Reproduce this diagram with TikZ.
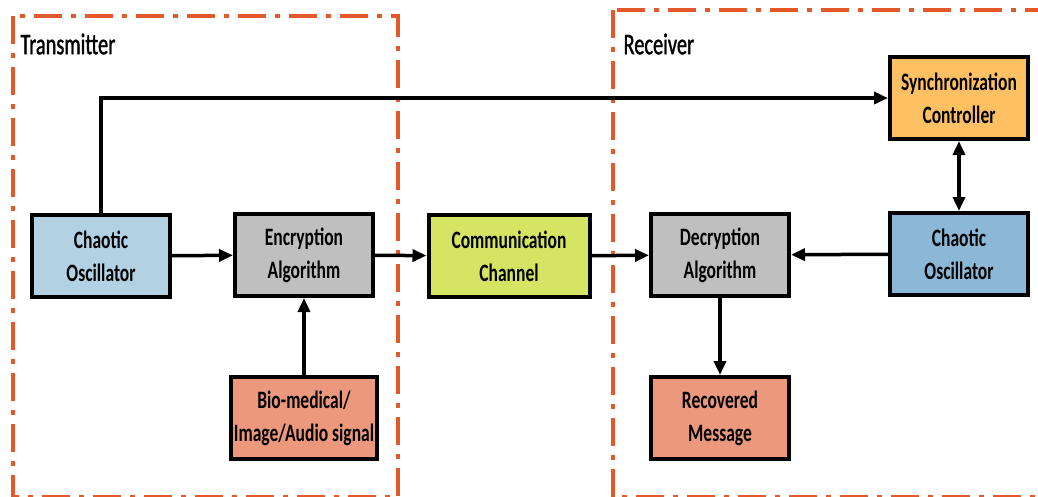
\documentclass[tikz,border=0pt]{standalone}
\usepackage{fontspec}
\setmainfont{Carlito}[FakeStretch=0.75]
\newfontfamily\blockfont{Carlito}[FakeStretch=0.70]
\newfontfamily\labelfont{Carlito}[FakeStretch=0.68, FakeBold=1.2]
\usepackage{tikz}
\usetikzlibrary{arrows.meta}
\usepackage{xcolor}
\definecolor{frameorange}{RGB}{228, 88, 42}
\definecolor{oscblue}{RGB}{178, 210, 228}
\definecolor{oscdeep}{RGB}{138, 184, 214}
\definecolor{algogray}{RGB}{191, 191, 191}
\definecolor{channelgreen}{RGB}{214, 228, 100}
\definecolor{syncorange}{RGB}{255, 192, 100}
\definecolor{msgsalmon}{RGB}{236, 152, 124}

\begin{document}
\begin{tikzpicture}[x=1pt, y=-1pt, >={Triangle[length=14pt, width=12pt]},
  block/.style={draw, line width=4pt, minimum width=138pt, minimum height=82pt,
    align=center, font=\blockfont\fontsize{25}{33}\selectfont\bfseries},
  link/.style={->, line width=3.5pt},
  frame/.style={frameorange, line width=4pt,
    dash pattern=on 28pt off 9pt on 5pt off 9pt}]
  \useasboundingbox (0,0) rectangle (1038,496);

  % transmitter and receiver frames
  \draw[frame] (13,16) rectangle (398,497);
  \draw[frame] (613,10) rectangle (1060,497);
  \node[anchor=west, font=\labelfont\fontsize{30}{36}\selectfont] (txlabel) at (17,44) {Transmitter};
  \node[anchor=west, font=\labelfont\fontsize{30}{36}\selectfont] (rxlabel) at (620,44) {Receiver};

  % blocks
  \node[block, fill=oscblue] (txosc) at (101,256) {Chaotic\\Oscillator};
  \node[block, fill=algogray] (enc) at (304,255) {Encryption\\Algorithm};
  \node[block, fill=channelgreen, minimum width=161pt] (chan) at (509,256) {Communication\\Channel};
  \node[block, fill=algogray] (dec) at (720,255) {Decryption\\Algorithm};
  \node[block, fill=oscdeep] (rxosc) at (959,254) {Chaotic\\Oscillator};
  \node[block, fill=syncorange] (sync) at (959,98) {Synchronization\\Controller};
  \node[block, fill=msgsalmon] (bio) at (304,418) {Bio-medical/\\Image/Audio signal};
  \node[block, fill=msgsalmon] (msg) at (720,418) {Recovered\\Message};

  % connections
  \draw[link] (txosc) -- (enc);
  \draw[link] (enc) -- (chan);
  \draw[link] (chan) -- (dec);
  \draw[link] (rxosc) -- (dec);
  \draw[link] (bio) -- (enc);
  \draw[link] (dec) -- (msg);
  \draw[link, <->] (sync) -- (rxosc);
  \draw[link] (txosc.north) |- (sync.west);

\end{tikzpicture}
\end{document}
